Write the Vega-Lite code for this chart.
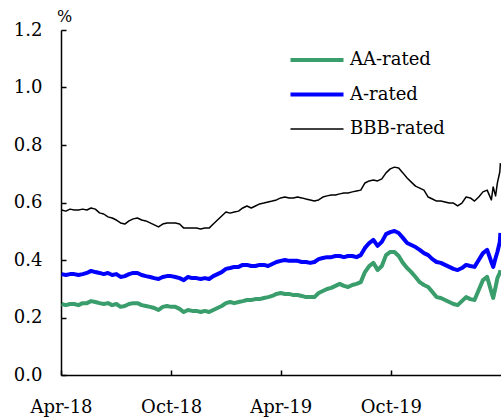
{
  "$schema": "https://vega.github.io/schema/vega-lite/v6.json",
  "width": 440,
  "height": 345,
  "autosize": {"type": "none"},
  "padding": {"left": 61, "top": 30, "right": 0, "bottom": 43},
  "background": "white",
  "config": {
    "view": {"stroke": null},
    "font": "DejaVu Serif",
    "axis": {
      "grid": false,
      "domainColor": "black",
      "domainWidth": 1.5,
      "tickColor": "black",
      "tickWidth": 1.5,
      "tickSize": -5,
      "labelFont": "DejaVu Serif",
      "labelFontSize": 18,
      "labelColor": "black",
      "titleFont": "DejaVu Serif",
      "titleColor": "black",
      "titleFontWeight": "normal"
    },
    "legend": {
      "labelFont": "DejaVu Serif"
    }
  },
  "data": {
    "values": [
      {"d": "2018-04-02", "AA": 0.247, "A": 0.351, "BBB": 0.574},
      {"d": "2018-04-09", "AA": 0.243, "A": 0.348, "BBB": 0.570},
      {"d": "2018-04-16", "AA": 0.247, "A": 0.351, "BBB": 0.577},
      {"d": "2018-04-23", "AA": 0.247, "A": 0.351, "BBB": 0.574},
      {"d": "2018-04-30", "AA": 0.243, "A": 0.348, "BBB": 0.574},
      {"d": "2018-05-07", "AA": 0.250, "A": 0.351, "BBB": 0.577},
      {"d": "2018-05-14", "AA": 0.250, "A": 0.355, "BBB": 0.574},
      {"d": "2018-05-21", "AA": 0.257, "A": 0.362, "BBB": 0.581},
      {"d": "2018-05-28", "AA": 0.254, "A": 0.358, "BBB": 0.577},
      {"d": "2018-06-04", "AA": 0.250, "A": 0.355, "BBB": 0.564},
      {"d": "2018-06-11", "AA": 0.247, "A": 0.351, "BBB": 0.560},
      {"d": "2018-06-18", "AA": 0.250, "A": 0.355, "BBB": 0.550},
      {"d": "2018-06-25", "AA": 0.243, "A": 0.348, "BBB": 0.546},
      {"d": "2018-07-02", "AA": 0.247, "A": 0.351, "BBB": 0.539},
      {"d": "2018-07-09", "AA": 0.237, "A": 0.341, "BBB": 0.529},
      {"d": "2018-07-16", "AA": 0.240, "A": 0.344, "BBB": 0.525},
      {"d": "2018-07-23", "AA": 0.247, "A": 0.351, "BBB": 0.536},
      {"d": "2018-07-30", "AA": 0.250, "A": 0.355, "BBB": 0.543},
      {"d": "2018-08-06", "AA": 0.250, "A": 0.355, "BBB": 0.546},
      {"d": "2018-08-13", "AA": 0.243, "A": 0.348, "BBB": 0.539},
      {"d": "2018-08-20", "AA": 0.240, "A": 0.344, "BBB": 0.536},
      {"d": "2018-08-27", "AA": 0.237, "A": 0.341, "BBB": 0.529},
      {"d": "2018-09-03", "AA": 0.233, "A": 0.337, "BBB": 0.522},
      {"d": "2018-09-10", "AA": 0.226, "A": 0.334, "BBB": 0.515},
      {"d": "2018-09-17", "AA": 0.237, "A": 0.341, "BBB": 0.525},
      {"d": "2018-09-24", "AA": 0.240, "A": 0.344, "BBB": 0.529},
      {"d": "2018-10-01", "AA": 0.237, "A": 0.344, "BBB": 0.529},
      {"d": "2018-10-08", "AA": 0.237, "A": 0.341, "BBB": 0.529},
      {"d": "2018-10-15", "AA": 0.230, "A": 0.337, "BBB": 0.525},
      {"d": "2018-10-22", "AA": 0.219, "A": 0.330, "BBB": 0.511},
      {"d": "2018-10-29", "AA": 0.226, "A": 0.341, "BBB": 0.511},
      {"d": "2018-11-05", "AA": 0.223, "A": 0.337, "BBB": 0.511},
      {"d": "2018-11-12", "AA": 0.223, "A": 0.337, "BBB": 0.511},
      {"d": "2018-11-19", "AA": 0.219, "A": 0.334, "BBB": 0.508},
      {"d": "2018-11-26", "AA": 0.223, "A": 0.337, "BBB": 0.511},
      {"d": "2018-12-03", "AA": 0.219, "A": 0.334, "BBB": 0.511},
      {"d": "2018-12-10", "AA": 0.226, "A": 0.344, "BBB": 0.525},
      {"d": "2018-12-17", "AA": 0.233, "A": 0.351, "BBB": 0.539},
      {"d": "2018-12-24", "AA": 0.240, "A": 0.358, "BBB": 0.553},
      {"d": "2018-12-31", "AA": 0.250, "A": 0.369, "BBB": 0.567},
      {"d": "2019-01-07", "AA": 0.254, "A": 0.372, "BBB": 0.563},
      {"d": "2019-01-14", "AA": 0.250, "A": 0.376, "BBB": 0.567},
      {"d": "2019-01-21", "AA": 0.254, "A": 0.376, "BBB": 0.570},
      {"d": "2019-01-28", "AA": 0.257, "A": 0.383, "BBB": 0.581},
      {"d": "2019-02-04", "AA": 0.261, "A": 0.383, "BBB": 0.588},
      {"d": "2019-02-11", "AA": 0.261, "A": 0.379, "BBB": 0.581},
      {"d": "2019-02-18", "AA": 0.264, "A": 0.379, "BBB": 0.588},
      {"d": "2019-02-25", "AA": 0.264, "A": 0.383, "BBB": 0.595},
      {"d": "2019-03-04", "AA": 0.268, "A": 0.383, "BBB": 0.598},
      {"d": "2019-03-11", "AA": 0.271, "A": 0.379, "BBB": 0.602},
      {"d": "2019-03-18", "AA": 0.275, "A": 0.386, "BBB": 0.605},
      {"d": "2019-03-25", "AA": 0.282, "A": 0.393, "BBB": 0.609},
      {"d": "2019-04-01", "AA": 0.285, "A": 0.397, "BBB": 0.616},
      {"d": "2019-04-08", "AA": 0.282, "A": 0.400, "BBB": 0.619},
      {"d": "2019-04-15", "AA": 0.282, "A": 0.397, "BBB": 0.616},
      {"d": "2019-04-22", "AA": 0.278, "A": 0.397, "BBB": 0.616},
      {"d": "2019-04-29", "AA": 0.278, "A": 0.397, "BBB": 0.619},
      {"d": "2019-05-06", "AA": 0.275, "A": 0.393, "BBB": 0.616},
      {"d": "2019-05-13", "AA": 0.271, "A": 0.393, "BBB": 0.612},
      {"d": "2019-05-20", "AA": 0.271, "A": 0.390, "BBB": 0.609},
      {"d": "2019-05-27", "AA": 0.271, "A": 0.393, "BBB": 0.605},
      {"d": "2019-06-03", "AA": 0.285, "A": 0.403, "BBB": 0.609},
      {"d": "2019-06-10", "AA": 0.292, "A": 0.407, "BBB": 0.619},
      {"d": "2019-06-17", "AA": 0.299, "A": 0.410, "BBB": 0.623},
      {"d": "2019-06-24", "AA": 0.303, "A": 0.410, "BBB": 0.626},
      {"d": "2019-07-01", "AA": 0.310, "A": 0.414, "BBB": 0.626},
      {"d": "2019-07-08", "AA": 0.317, "A": 0.414, "BBB": 0.630},
      {"d": "2019-07-15", "AA": 0.310, "A": 0.410, "BBB": 0.633},
      {"d": "2019-07-22", "AA": 0.306, "A": 0.414, "BBB": 0.633},
      {"d": "2019-07-29", "AA": 0.313, "A": 0.414, "BBB": 0.637},
      {"d": "2019-08-05", "AA": 0.317, "A": 0.410, "BBB": 0.640},
      {"d": "2019-08-12", "AA": 0.323, "A": 0.417, "BBB": 0.643},
      {"d": "2019-08-19", "AA": 0.358, "A": 0.442, "BBB": 0.668},
      {"d": "2019-08-26", "AA": 0.379, "A": 0.459, "BBB": 0.675},
      {"d": "2019-09-02", "AA": 0.390, "A": 0.470, "BBB": 0.678},
      {"d": "2019-09-09", "AA": 0.365, "A": 0.449, "BBB": 0.675},
      {"d": "2019-09-16", "AA": 0.379, "A": 0.463, "BBB": 0.682},
      {"d": "2019-09-23", "AA": 0.417, "A": 0.490, "BBB": 0.703},
      {"d": "2019-09-30", "AA": 0.428, "A": 0.497, "BBB": 0.717},
      {"d": "2019-10-07", "AA": 0.428, "A": 0.501, "BBB": 0.723},
      {"d": "2019-10-14", "AA": 0.414, "A": 0.494, "BBB": 0.720},
      {"d": "2019-10-21", "AA": 0.390, "A": 0.477, "BBB": 0.703},
      {"d": "2019-10-28", "AA": 0.372, "A": 0.459, "BBB": 0.685},
      {"d": "2019-11-04", "AA": 0.358, "A": 0.452, "BBB": 0.671},
      {"d": "2019-11-11", "AA": 0.341, "A": 0.445, "BBB": 0.657},
      {"d": "2019-11-18", "AA": 0.323, "A": 0.435, "BBB": 0.650},
      {"d": "2019-11-25", "AA": 0.313, "A": 0.424, "BBB": 0.643},
      {"d": "2019-12-02", "AA": 0.306, "A": 0.417, "BBB": 0.619},
      {"d": "2019-12-09", "AA": 0.289, "A": 0.403, "BBB": 0.612},
      {"d": "2019-12-16", "AA": 0.271, "A": 0.393, "BBB": 0.605},
      {"d": "2019-12-23", "AA": 0.268, "A": 0.390, "BBB": 0.605},
      {"d": "2019-12-30", "AA": 0.261, "A": 0.383, "BBB": 0.602},
      {"d": "2020-01-06", "AA": 0.254, "A": 0.376, "BBB": 0.598},
      {"d": "2020-01-13", "AA": 0.247, "A": 0.369, "BBB": 0.598},
      {"d": "2020-01-20", "AA": 0.243, "A": 0.365, "BBB": 0.588},
      {"d": "2020-01-27", "AA": 0.257, "A": 0.372, "BBB": 0.598},
      {"d": "2020-02-03", "AA": 0.271, "A": 0.383, "BBB": 0.619},
      {"d": "2020-02-10", "AA": 0.264, "A": 0.379, "BBB": 0.616},
      {"d": "2020-02-17", "AA": 0.261, "A": 0.376, "BBB": 0.605},
      {"d": "2020-02-24", "AA": 0.296, "A": 0.400, "BBB": 0.619},
      {"d": "2020-03-02", "AA": 0.330, "A": 0.424, "BBB": 0.637},
      {"d": "2020-03-09", "AA": 0.341, "A": 0.435, "BBB": 0.643},
      {"d": "2020-03-16", "AA": 0.289, "A": 0.393, "BBB": 0.609},
      {"d": "2020-03-19", "AA": 0.268, "A": 0.376, "BBB": 0.654},
      {"d": "2020-03-23", "AA": 0.306, "A": 0.407, "BBB": 0.623},
      {"d": "2020-03-26", "AA": 0.337, "A": 0.428, "BBB": 0.668},
      {"d": "2020-03-30", "AA": 0.355, "A": 0.463, "BBB": 0.706},
      {"d": "2020-03-31", "AA": 0.365, "A": 0.494, "BBB": 0.737}
    ]
  },
  "transform": [{"fold": ["AA", "A", "BBB"], "as": ["series", "value"]}],
  "mark": {"type": "line", "clip": true, "strokeJoin": "round"},
  "encoding": {
    "x": {
      "field": "d",
      "type": "temporal",
      "scale": {
        "type": "utc",
        "domain": [
          {"year": 2018, "month": 4, "date": 1, "utc": true},
          {"year": 2020, "month": 4, "date": 1, "utc": true}
        ]
      },
      "axis": {
        "title": null,
        "values": [
          {"year": 2018, "month": 4, "date": 1, "utc": true},
          {"year": 2018, "month": 10, "date": 1, "utc": true},
          {"year": 2019, "month": 4, "date": 1, "utc": true},
          {"year": 2019, "month": 10, "date": 1, "utc": true}
        ],
        "format": "%b-%y",
        "labelFlush": false,
        "labelOverlap": false,
        "labelPadding": 28
      }
    },
    "y": {
      "field": "value",
      "type": "quantitative",
      "scale": {"domain": [0, 1.2], "nice": false, "zero": true},
      "axis": {
        "values": [0, 0.2, 0.4, 0.6, 0.8, 1.0, 1.2],
        "format": ".1f",
        "labelPadding": 24,
        "title": "%",
        "titleAngle": 0,
        "titleAlign": "center",
        "titleBaseline": "alphabetic",
        "titleX": 3,
        "titleY": -9,
        "titleFontSize": 16
      }
    },
    "color": {
      "field": "series",
      "type": "nominal",
      "scale": {"domain": ["AA", "A", "BBB"], "range": ["#3a9d6c", "#0000ff", "#000000"]},
      "legend": {
        "orient": "none",
        "legendX": 247,
        "legendY": 21,
        "title": null,
        "symbolType": "stroke",
        "symbolSize": 2809,
        "symbolStrokeWidth": 4,
        "labelFont": "DejaVu Serif",
        "labelFontSize": 18,
        "labelColor": "black",
        "labelOffset": 24,
        "rowPadding": 16.5,
        "labelExpr": "datum.label + '-rated'",
        "encode": {
          "symbols": {"update": {"strokeWidth": {"signal": "datum.value === 'BBB' ? 1.5 : 4"}}}
        }
      }
    },
    "strokeWidth": {
      "condition": {"test": "datum.series === 'BBB'", "value": 1.5},
      "value": 4
    }
  }
}
